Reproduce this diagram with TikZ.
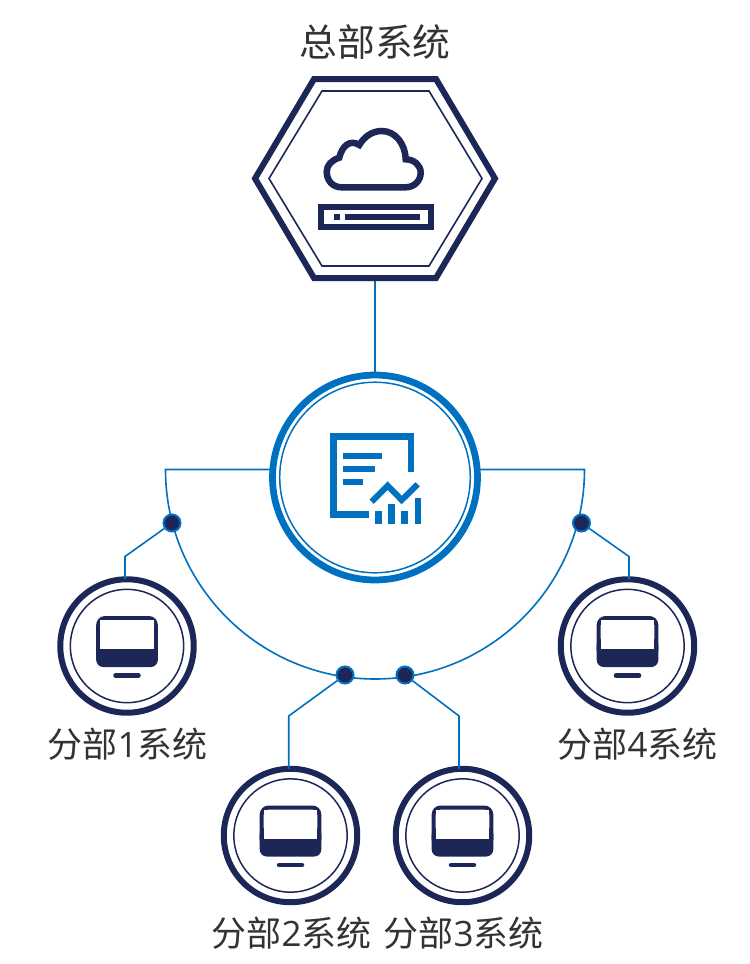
\documentclass[tikz,border=0pt]{standalone}
\usepackage{fontspec}
\setmainfont{Noto Sans CJK SC}
\newfontfamily\digitfont{Open Sans}
\definecolor{navy}{HTML}{1C2758}
\definecolor{linkblue}{HTML}{0070C0}
\definecolor{labelgray}{HTML}{333333}

\begin{document}
\begin{tikzpicture}[x=0.02cm,y=-0.02cm,
  hq node/.style={minimum width=4.8cm,minimum height=3.98cm,inner sep=0pt,outer sep=0pt},
  center node/.style={circle,draw=linkblue,line width=0.135cm,minimum size=4.1cm,inner sep=0pt,outer sep=0pt},
  branch node/.style={circle,draw=navy,line width=0.12cm,minimum size=2.67cm,inner sep=0pt,outer sep=0pt},
  dot node/.style={circle,draw=linkblue,fill=navy,line width=0.04cm,minimum size=0.34cm,inner sep=0pt},
  label node/.style={text=labelgray,font=\fontsize{19.9pt}{23pt}\selectfont,inner sep=0pt},
  title node/.style={text=labelgray,font=\fontsize{21.5pt}{25pt}\selectfont,inner sep=0pt},
  link/.style={draw=linkblue,line width=0.032cm},
  monitor/.pic={
    \draw[navy,line width=0.03cm] (0,0) circle[radius=56.7];
    \fill[navy,rounded corners=0.14cm] (-30.8,-8) -- (-30.8,21) -- (30.8,21) -- (30.8,-8) -- cycle;
    \draw[navy,line width=0.08cm,rounded corners=0.14cm] (-28.8,5) -- (-28.8,-28) -- (28.8,-28) -- (28.8,5);
    \fill[white] (-26.8,-26) rectangle (26.8,3);
    \draw[navy,line width=0.09cm,line cap=round] (-11.5,29.5) -- (11.5,29.5);
  }]

  \useasboundingbox (0,0) rectangle (750,964);

  \node[hq node] (hq) at (375,178.5) {};
  \node[center node] (center) at (375,477.5) {};
  \node[branch node] (b1) at (127,646) {};
  \node[branch node] (b2) at (290.5,835.5) {};
  \node[branch node] (b3) at (462.5,835.5) {};
  \node[branch node] (b4) at (627.5,646) {};

  \node[title node] (title) at (375,42) {总部系统};
  \node[label node] (l1) at (127.5,744) {分部{\digitfont 1}系统};
  \node[label node] (l2) at (291.5,933) {分部{\digitfont 2}系统};
  \node[label node] (l3) at (463.5,933) {分部{\digitfont 3}系统};
  \node[label node] (l4) at (637.5,744) {分部{\digitfont 4}系统};

  \coordinate (arcleft) at (165.5,469.5);
  \coordinate (arcright) at (584.5,469.5);
  \coordinate (k1) at (125,556.5);
  \coordinate (k2) at (288.7,716);
  \coordinate (k3) at (459,716);
  \coordinate (k4) at (629,556.5);

  \draw[link] (hq.south) -- (center.north);
  \draw[link] (center.west |- arcleft) -- (arcleft) arc[start angle=180,end angle=0,radius=209.5] -- (center.east |- arcright);

  \node[dot node] (d1) at (172,523) {};
  \node[dot node] (d2) at (345,675) {};
  \node[dot node] (d3) at (405,675) {};
  \node[dot node] (d4) at (581.5,523) {};

  \draw[link] (d1) -- (k1) -- (k1 |- b1.north);
  \draw[link] (d2) -- (k2) -- (k2 |- b2.north);
  \draw[link] (d3) -- (k3) -- (k3 |- b3.north);
  \draw[link] (d4) -- (k4) -- (k4 |- b4.north);

  \draw[navy,line width=0.12cm,line join=miter] (hq.north west) ++(59,0) -- ++(122,0) -- (hq.east) -- (436,278) -- (314,278) -- (hq.west) -- cycle;
  \draw[navy,line width=0.032cm] (322,91) -- (429,91) -- (482,178.5) -- (429,266) -- (322,266) -- (269,178.5) -- cycle;
  \draw[navy,line width=0.13cm] (341.7,187.3) -- (405.7,187.3)
    .. controls (414,187.3) and (420.7,181) .. (420.7,172.7)
    .. controls (420.7,165) and (414,159.5) .. (405.7,159.3)
    .. controls (405,143) and (395,131) .. (381.7,131)
    .. controls (372,131) and (364,137) .. (359.3,145)
    .. controls (350,139) and (342,146) .. (339.3,157.7)
    .. controls (332,160) and (326.7,165) .. (326.7,171.7)
    .. controls (326.7,181) and (333,187.3) .. (341.7,187.3) -- cycle;
  \draw[navy,line width=0.12cm] (321,207) rectangle (431,227);
  \fill[navy] (334,214) rectangle (340,220);
  \fill[navy] (345,214) rectangle (420,220);

  \draw[linkblue,line width=0.03cm] (center) circle[radius=95.3];
  \draw[linkblue,line width=0.13cm] (369.3,514.3) -- (333.3,514.3) -- (333.3,436.3) -- (411,436.3) -- (411,472.3);
  \fill[linkblue] (342.7,452.7) rectangle (382,459);
  \fill[linkblue] (342.7,465.7) rectangle (375.3,472);
  \fill[linkblue] (342.7,478.7) rectangle (362.7,485);
  \draw[linkblue,line width=0.12cm] (371.7,501.7) -- (387.7,485.7) -- (401.7,500) -- (417.7,484.3);
  \fill[linkblue] (375.3,511) rectangle (381.7,523.7);
  \fill[linkblue] (388.3,504.3) rectangle (395,523.7);
  \fill[linkblue] (401.3,511) rectangle (408,523.7);
  \fill[linkblue] (414.7,498) rectangle (421,523.7);

  \path (b1) pic {monitor};
  \path (b2) pic {monitor};
  \path (b3) pic {monitor};
  \path (b4) pic {monitor};
\end{tikzpicture}
\end{document}
